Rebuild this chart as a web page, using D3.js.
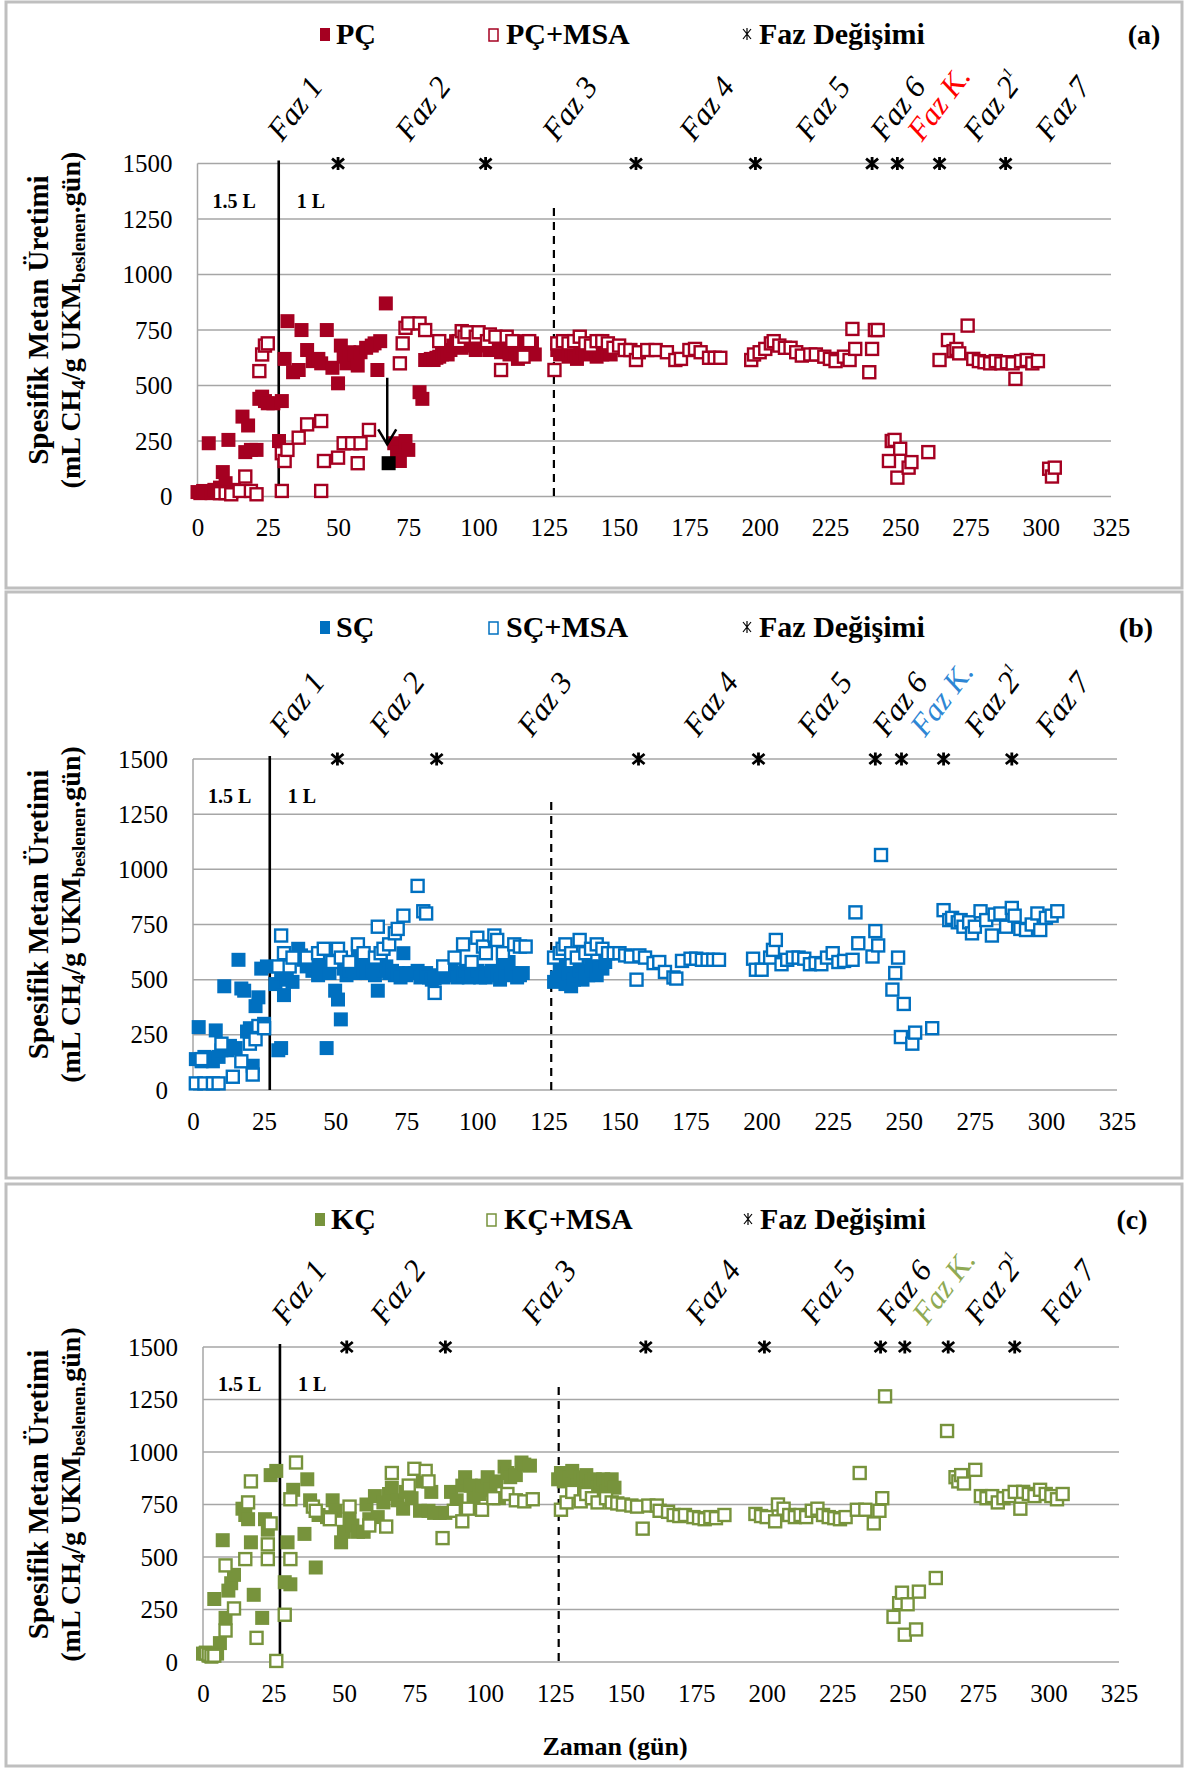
<!DOCTYPE html>
<html><head><meta charset="utf-8">
<script src="https://cdn.jsdelivr.net/npm/d3@7"></script>
<style>body{margin:0;background:#fff}svg{display:block}</style>
</head><body>
<svg id="chart" width="1187" height="1769"></svg>
<script>
// ---------- tick labels ----------
const xTicks = [0,25,50,75,100,125,150,175,200,225,250,275,300,325];
const yTicks = [0,250,500,750,1000,1250,1500];
const phaseLabels = ["Faz 1","Faz 2","Faz 3","Faz 4","Faz 5","Faz 6","Faz K.","Faz 2","Faz 7"];

// ---------- panel (a) PÇ ----------
const pcFilled = [[0,20],[1,15],[2,25],[3,20],[4,240],[5,15],[6,30],[7,20],[8,40],[9,110],[10,60],[11,255],[12,20],[13,30],[16,360],[17,200],[18,320],[19,210],[21,210],[22,440],[23,450],[24,430],[25,420],[27,420],[29,250],[30,430],[31,620],[32,790],[34,560],[36,570],[37,750],[39,660],[41,610],[43,620],[44,600],[46,750],[48,580],[50,510],[51,680],[52,630],[53,600],[54,650],[56,640],[57,590],[58,650],[60,670],[62,680],[63,690],[64,570],[65,700],[67,870],[70,240],[71,200],[72,160],[74,250],[75,210],[79,470],[80,440],[81,615],[82,615],[83,620],[84,615],[85,625],[86,630],[87,640],[88,650],[89,640],[90,660],[91,680],[92,700],[93,690],[94,670],[95,720],[96,690],[97,710],[98,680],[99,660],[100,690],[101,700],[102,690],[103,680],[104,660],[105,700],[106,680],[107,700],[108,650],[109,670],[110,660],[111,640],[112,700],[113,650],[114,620],[115,660],[116,700],[117,680],[118,650],[119,690],[120,640],[128,660],[129,640],[130,650],[131,680],[132,630],[133,660],[134,640],[135,620],[136,650],[137,670],[138,640],[139,660],[140,650],[141,690],[142,630],[143,660],[144,640],[145,670],[146,650],[147,640]];
const pcOpen = [[8,15],[10,15],[12,10],[15,25],[17,90],[19,25],[21,10],[22,565],[23,640],[24,680],[25,690],[30,25],[30,195],[31,160],[32,210],[36,265],[39,325],[44,340],[44,25],[45,160],[50,175],[52,240],[55,240],[57,150],[58,240],[61,300],[72,600],[73,690],[74,760],[75,780],[79,780],[81,750],[86,700],[93,700],[94,745],[95,720],[96,740],[99,720],[100,740],[103,700],[104,730],[106,720],[108,570],[110,720],[112,700],[116,630],[118,700],[127,570],[128,690],[130,700],[132,690],[134,700],[136,720],[138,690],[140,680],[142,700],[144,700],[146,690],[148,670],[150,680],[152,660],[154,660],[156,615],[157,650],[160,660],[163,660],[167,650],[170,615],[172,620],[175,660],[177,665],[179,650],[182,625],[184,625],[186,625],[197,615],[198,640],[200,650],[202,665],[204,690],[205,700],[207,680],[209,670],[211,670],[213,650],[215,635],[218,640],[220,640],[223,630],[225,620],[227,610],[230,630],[232,615],[233,755],[234,665],[239,560],[240,665],[241,750],[242,750],[246,160],[247,250],[248,255],[249,85],[250,215],[253,130],[254,155],[260,200],[264,615],[267,705],[269,655],[270,665],[271,645],[274,770],[276,620],[278,610],[280,605],[282,600],[284,610],[286,600],[288,605],[290,600],[291,530],[293,610],[295,615],[297,600],[299,610],[303,125],[304,90],[305,130]];
const pcMarked = [[68,150]];           // black highlighted point
const pcArrow = [[67.5,535],[67.5,235]]; // arrow from -> to
const phaseDaysA = [50,102.5,156,198.5,240,249,264,287.5];
const labelDaysA = [30.1,75.6,127.9,176.6,217.9,244.6,257.8,277.7,303.3];

// ---------- panel (b) SÇ ----------
const scFilled = [[1,140],[2,285],[3,130],[4,150],[5,140],[6,145],[7,130],[8,270],[9,150],[10,180],[11,470],[12,180],[13,200],[15,190],[16,590],[17,460],[18,450],[19,265],[20,280],[21,110],[22,380],[23,420],[24,550],[25,300],[26,560],[29,480],[30,180],[31,190],[31,530],[32,430],[33,500],[35,490],[37,640],[38,610],[39,590],[40,560],[41,590],[42,540],[43,550],[44,520],[45,560],[47,190],[48,530],[50,450],[51,410],[52,320],[53,550],[54,520],[55,540],[56,560],[57,530],[58,620],[59,560],[60,540],[61,530],[62,560],[63,540],[64,520],[65,450],[66,580],[67,540],[68,560],[69,530],[70,540],[71,520],[72,530],[73,510],[74,620],[75,520],[76,530],[78,530],[79,540],[80,510],[81,520],[82,530],[83,510],[84,500],[85,505],[86,520],[88,510],[89,520],[90,530],[91,540],[92,520],[93,510],[94,530],[95,520],[96,540],[97,510],[98,530],[99,520],[100,540],[101,510],[102,530],[103,510],[104,520],[105,540],[106,530],[107,520],[108,500],[109,560],[110,520],[111,580],[112,530],[114,510],[115,520],[116,530],[127,490],[128,510],[129,560],[130,520],[131,480],[132,530],[133,470],[134,500],[135,520],[136,540],[137,500],[138,530],[139,520],[140,560],[141,540],[142,520],[143,560],[144,550],[145,580],[146,620]];
const scOpen = [[1,30],[4,30],[7,30],[9,30],[3,140],[10,210],[14,60],[17,130],[20,210],[21,70],[22,230],[23,290],[25,280],[31,700],[32,620],[30,560],[34,560],[35,600],[40,600],[44,620],[46,640],[49,580],[51,640],[52,600],[55,580],[58,660],[60,620],[64,600],[65,740],[66,620],[67,640],[69,660],[71,710],[72,730],[74,790],[79,925],[81,810],[82,800],[85,440],[88,560],[92,600],[95,660],[98,580],[100,690],[102,650],[103,620],[106,700],[107,680],[109,620],[113,660],[115,650],[117,650],[127,600],[129,620],[130,640],[131,660],[133,620],[135,600],[136,680],[138,620],[140,640],[142,660],[144,640],[146,620],[148,620],[150,620],[152,610],[154,605],[156,500],[157,610],[159,600],[162,575],[164,580],[166,535],[169,510],[170,505],[172,585],[175,595],[177,595],[179,590],[181,590],[183,590],[185,590],[197,595],[198,545],[200,545],[203,600],[204,635],[205,680],[207,570],[209,590],[211,600],[213,600],[215,595],[217,570],[219,575],[221,570],[223,600],[225,620],[227,580],[229,585],[232,590],[233,805],[234,665],[239,605],[240,720],[241,655],[242,1065],[246,455],[247,530],[248,600],[249,240],[250,390],[253,210],[254,260],[260,280],[264,815],[266,770],[267,780],[269,760],[270,770],[271,740],[273,760],[274,710],[275,740],[277,810],[279,770],[281,700],[282,795],[284,800],[286,740],[288,825],[289,790],[291,730],[293,725],[295,750],[297,800],[298,725],[300,780],[302,790],[304,810]];
const phaseDaysB = [50.8,85.7,156.7,198.9,240,249.2,264,288];
const labelDaysB = [32,67.2,119.2,177.6,217.7,244.1,257.5,276.5,301.4];

// ---------- panel (c) KÇ ----------
const kcFilled = [[0,40],[1,45],[2,30],[3,25],[4,300],[5,40],[6,90],[7,580],[8,210],[9,340],[10,375],[11,415],[14,730],[15,700],[16,680],[17,570],[18,320],[21,210],[22,680],[23,630],[24,890],[26,910],[29,380],[30,570],[31,370],[32,820],[36,610],[37,870],[38,770],[40,450],[41,700],[44,690],[46,770],[47,720],[49,570],[50,620],[52,680],[53,650],[55,620],[57,620],[58,750],[59,680],[61,790],[62,690],[64,760],[66,800],[67,830],[69,770],[71,730],[72,810],[74,780],[77,720],[78,860],[80,720],[81,810],[82,710],[84,710],[86,710],[88,810],[90,770],[92,840],[93,880],[95,840],[96,780],[98,800],[99,840],[101,880],[102,820],[104,860],[105,780],[107,930],[108,900],[109,880],[111,890],[113,950],[114,940],[116,935],[126,870],[127,900],[128,860],[129,900],[130,880],[131,910],[132,860],[133,840],[134,880],[135,870],[136,890],[137,840],[138,860],[139,870],[140,830],[141,860],[142,870],[143,810],[144,850],[145,870],[146,830]];
const kcOpen = [[1,40],[2,35],[3,30],[4,30],[8,150],[8,460],[11,255],[15,490],[16,760],[17,860],[19,115],[23,490],[23,560],[24,660],[26,5],[29,225],[31,490],[31,775],[33,950],[39,740],[40,720],[45,680],[52,740],[59,650],[65,645],[67,900],[73,840],[75,920],[79,910],[80,860],[85,590],[89,720],[92,670],[94,730],[99,725],[103,780],[108,800],[111,770],[114,765],[117,775],[127,725],[129,760],[131,810],[134,765],[136,800],[138,780],[140,760],[143,780],[145,760],[147,755],[149,750],[152,745],[154,740],[156,635],[158,745],[161,745],[162,720],[165,715],[167,700],[169,695],[171,700],[174,690],[176,685],[178,680],[180,690],[182,685],[185,700],[196,705],[198,695],[200,690],[203,670],[204,750],[206,730],[208,700],[210,690],[212,700],[214,690],[216,720],[218,730],[220,700],[222,690],[224,685],[226,680],[228,690],[232,725],[233,900],[235,725],[238,660],[240,720],[241,780],[242,1265],[245,215],[247,280],[248,330],[249,130],[250,275],[253,155],[254,335],[260,400],[264,1100],[267,880],[268,860],[269,890],[270,850],[274,915],[276,790],[278,780],[280,790],[282,760],[284,780],[286,790],[288,810],[290,730],[291,810],[293,800],[295,790],[297,820],[299,800],[301,790],[303,775],[305,800]];
const phaseDaysC = [51,86,157.1,199.2,240.4,249,264.4,288];
const labelDaysC = [29.5,64.6,118.2,176.4,217.2,244.1,256.9,275.4,302.3];

// ---------- drawing ----------
const svg = d3.select("#chart");
const SERIF = "'Liberation Serif','Times New Roman',serif";

const panels = [
  {tag:"(a)", name:"PÇ", color:"#A50021", kColor:"#FF0000", filled:pcFilled, open:pcOpen, phases:phaseDaysA, labels:labelDaysA,
   box:[6,2,1176,586], left:197.5, right:1111, top:163.6, bottom:496.5, legendY:34, legendX:[325,493,747], tagX:1144,
   solidDay:28.9, dashedDay:126.8, dashTop:1300, marked:pcMarked, arrow:pcArrow},
  {tag:"(b)", name:"SÇ", color:"#0070C0", kColor:"#2E86D4", filled:scFilled, open:scOpen, phases:phaseDaysB, labels:labelDaysB,
   box:[6,592,1176,586], left:193, right:1117, top:759, bottom:1090, legendY:627, legendX:[325,493,747], tagX:1136,
   solidDay:27, dashedDay:126, dashTop:1305},
  {tag:"(c)", name:"KÇ", color:"#77933C", kColor:"#8FAA55", filled:kcFilled, open:kcOpen, phases:phaseDaysC, labels:labelDaysC,
   box:[6,1184,1176,582], left:203, right:1119, top:1347, bottom:1662, legendY:1219, legendX:[320,491,748], tagX:1132,
   solidDay:27.3, dashedDay:126.2, dashTop:1309}
];

panels.forEach(p => {
  const g = svg.append("g");
  // panel border
  g.append("rect").attr("x",p.box[0]).attr("y",p.box[1]).attr("width",p.box[2]).attr("height",p.box[3])
    .attr("fill","#fff").attr("stroke","#BFBFBF").attr("stroke-width",3);

  const x = d3.scaleLinear().domain([0,325]).range([p.left,p.right]);
  const y = d3.scaleLinear().domain([0,1500]).range([p.bottom,p.top]);

  // gridlines
  g.append("g").selectAll("line").data(yTicks).join("line")
    .attr("x1",p.left).attr("x2",p.right).attr("y1",d=>y(d)).attr("y2",d=>y(d))
    .attr("stroke","#A6A6A6").attr("stroke-width",1.5);
  g.append("line").attr("x1",p.left).attr("x2",p.left).attr("y1",y(1500)).attr("y2",y(0))
    .attr("stroke","#A6A6A6").attr("stroke-width",1.5);

  // axes (labels only)
  const yAxis = d3.axisLeft(y).tickValues(yTicks).tickSize(0).tickPadding(25).tickFormat(d3.format("d"));
  const ya = g.append("g").attr("transform",`translate(${p.left},0)`).call(yAxis);
  ya.select(".domain").remove();
  ya.attr("font-family",SERIF);
  ya.selectAll("text").attr("font-family",SERIF).attr("font-size",25).attr("fill","#000");
  const xAxis = d3.axisBottom(x).tickValues(xTicks).tickSize(0).tickPadding(22).tickFormat(d3.format("d"));
  const xa = g.append("g").attr("transform",`translate(0,${p.bottom})`).call(xAxis);
  xa.select(".domain").remove();
  xa.attr("font-family",SERIF);
  xa.selectAll("text").attr("font-family",SERIF).attr("font-size",25).attr("fill","#000");

  // vertical separators
  g.append("line").attr("x1",x(p.solidDay)).attr("x2",x(p.solidDay)).attr("y1",y(1500)-3).attr("y2",y(0))
    .attr("stroke","#000").attr("stroke-width",2.6);
  g.append("line").attr("x1",x(p.dashedDay)).attr("x2",x(p.dashedDay)).attr("y1",y(p.dashTop)).attr("y2",y(0))
    .attr("stroke","#000").attr("stroke-width",2.2).attr("stroke-dasharray","8,6");

  // volume labels
  g.append("text").attr("x",p.left+15).attr("y",p.top+44).text("1.5 L")
    .attr("font-family",SERIF).attr("font-weight","bold").attr("font-size",20);
  g.append("text").attr("x",x(p.solidDay)+18).attr("y",p.top+44).text("1 L")
    .attr("font-family",SERIF).attr("font-weight","bold").attr("font-size",20);

  // filled series
  const fs = 14;
  g.append("g").selectAll("rect").data(p.filled).join("rect")
    .attr("x",d=>x(d[0])-fs/2).attr("y",d=>y(d[1])-fs/2).attr("width",fs).attr("height",fs)
    .attr("fill",p.color);
  // open series
  const os = 12;
  g.append("g").selectAll("rect").data(p.open).join("rect")
    .attr("x",d=>x(d[0])-os/2).attr("y",d=>y(d[1])-os/2).attr("width",os).attr("height",os)
    .attr("fill","#fff").attr("stroke",p.color).attr("stroke-width",2.4);

  if (p.marked) {
    g.append("g").selectAll("rect").data(p.marked).join("rect")
      .attr("x",d=>x(d[0])-fs/2).attr("y",d=>y(d[1])-fs/2).attr("width",fs).attr("height",fs).attr("fill","#000");
  }
  if (p.arrow) {
    const [a0,a1] = p.arrow;
    const x0 = x(a0[0]), y0 = y(a0[1]), x1 = x(a1[0]), y1 = y(a1[1]);
    g.append("line").attr("x1",x0).attr("y1",y0).attr("x2",x1).attr("y2",y1).attr("stroke","#000").attr("stroke-width",2.5);
    g.append("path").attr("d",`M${x1-9},${y1-15}L${x1},${y1}L${x1+9},${y1-15}`)
      .attr("fill","none").attr("stroke","#000").attr("stroke-width",2.5);
  }

  // phase change stars
  const star = "M-6,-5L6,5M-6,5L6,-5M0,-6.5L0,6.5";
  g.append("g").selectAll("path").data(p.phases).join("path")
    .attr("transform",d=>`translate(${x(d)},${y(1500)})`).attr("d",star)
    .attr("stroke","#000").attr("stroke-width",2.8).attr("fill","none");

  // phase labels
  const lg = g.append("g").selectAll("text").data(p.labels).join("text")
    .attr("transform",d=>`translate(${x(d)},${p.top-21}) rotate(-53)`)
    .attr("font-family",SERIF).attr("font-style","italic").attr("font-size",31)
    .attr("fill",(d,i)=> i===6 ? p.kColor : "#000")
    .text((d,i)=>phaseLabels[i]);
  lg.filter((d,i)=>i===7).append("tspan").attr("font-size",15).attr("dy",-14).text("1");

  // legend
  const ly = p.legendY;
  g.append("rect").attr("x",p.legendX[0]-5).attr("y",ly-6).attr("width",10).attr("height",13).attr("fill",p.color);
  g.append("text").attr("x",p.legendX[0]+11).attr("y",ly+10).text(p.name)
    .attr("font-family",SERIF).attr("font-weight","bold").attr("font-size",30);
  g.append("rect").attr("x",p.legendX[1]-4).attr("y",ly-5).attr("width",9).attr("height",12)
    .attr("fill","#fff").attr("stroke",p.color).attr("stroke-width",1.5);
  g.append("text").attr("x",p.legendX[1]+13).attr("y",ly+10).text(p.name+"+MSA")
    .attr("font-family",SERIF).attr("font-weight","bold").attr("font-size",30);
  g.append("path").attr("transform",`translate(${p.legendX[2]},${ly})`).attr("d","M-4,-5L4,5M-4,5L4,-5M0,-6L0,6")
    .attr("stroke","#000").attr("stroke-width",1.2).attr("fill","none");
  g.append("text").attr("x",p.legendX[2]+12).attr("y",ly+10).text("Faz Değişimi")
    .attr("font-family",SERIF).attr("font-weight","bold").attr("font-size",30);
  g.append("text").attr("x",p.tagX).attr("y",ly+10).attr("text-anchor","middle").text(p.tag)
    .attr("font-family",SERIF).attr("font-weight","bold").attr("font-size",28);

  // y-axis title
  const cy = (p.top+p.bottom)/2 - 10;
  g.append("text").attr("transform",`translate(48,${cy}) rotate(-90)`).attr("text-anchor","middle")
    .attr("font-family",SERIF).attr("font-weight","bold").attr("font-size",29).text("Spesifik Metan Üretimi");
  const t2 = g.append("text").attr("transform",`translate(80,${cy}) rotate(-90)`).attr("text-anchor","middle")
    .attr("font-family",SERIF).attr("font-weight","bold").attr("font-size",28);
  t2.append("tspan").text("(mL CH");
  t2.append("tspan").attr("font-size",19).attr("dy",5).text("4");
  t2.append("tspan").attr("dy",-5).text("/g UKM");
  t2.append("tspan").attr("font-size",19).attr("dy",5).text(p.tag==="(c)"?"beslenen.":"beslenen");
  t2.append("tspan").attr("dy",-5).text(p.tag==="(c)"?"gün)":".gün)");
});

// x-axis title
svg.append("text").attr("x",615).attr("y",1755).attr("text-anchor","middle")
  .attr("font-family",SERIF).attr("font-weight","bold").attr("font-size",26).text("Zaman (gün)");
</script>
</body></html>
